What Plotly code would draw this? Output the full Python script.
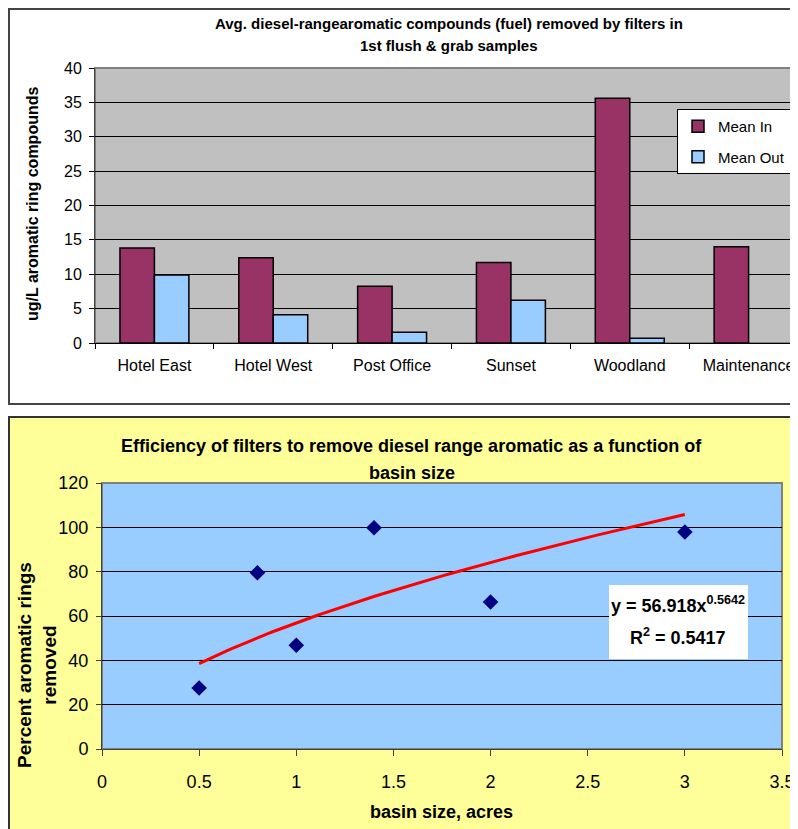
import numpy as np
import plotly.graph_objects as go

# The page adds an 8 px body margin, so the figure is drawn 8 px smaller
OFF = 8
W, H = 798 - OFF, 829 - OFF
FONT = "Arial, Liberation Sans, sans-serif"

# ---- data: top chart ----
sites = ["Hotel East", "Hotel West", "Post Office", "Sunset", "Woodland", "Maintenance"]
mean_in = [13.8, 12.4, 8.25, 11.7, 35.6, 14.0]
mean_out = [9.9, 4.1, 1.55, 6.2, 0.68, None]

# ---- data: bottom chart ----
basin_size = [0.5, 0.8, 1.0, 1.4, 2.0, 3.0]
pct_removed = [27.5, 79.5, 46.8, 99.8, 66.3, 97.9]

# power trendline as displayed on the chart
fit_a = 56.918
fit_b = 0.5642
fit_r2 = 0.5417


def px(x):
    return (x - OFF) / W


def py(y):
    return 1 - (y - OFF) / H


fig = go.Figure()

fig.add_trace(go.Bar(
    x=sites, y=mean_in, name="Mean In",
    marker=dict(color="#993366", line=dict(color="black", width=1.5)),
    xaxis="x", yaxis="y", legendgroup="a",
))
fig.add_trace(go.Bar(
    x=sites, y=mean_out, name="Mean Out",
    marker=dict(color="#99CCFF", line=dict(color="black", width=1.5)),
    xaxis="x", yaxis="y", legendgroup="b",
))

fig.add_trace(go.Scatter(
    x=basin_size, y=pct_removed, mode="markers",
    marker=dict(symbol="diamond", size=12, color="#000080"),
    xaxis="x2", yaxis="y2", showlegend=False,
))
trend_x = np.linspace(min(basin_size), max(basin_size), 120)
trend_y = fit_a * trend_x ** fit_b
fig.add_trace(go.Scatter(
    x=trend_x, y=trend_y, mode="lines",
    line=dict(color="#FF0000", width=3),
    xaxis="x2", yaxis="y2", showlegend=False,
))

shapes = [
    dict(type="rect", xref="paper", yref="paper", x0=px(9), x1=1.02, y0=py(404), y1=py(9),
         fillcolor="white", line=dict(color="#444444", width=2), layer="below"),
    dict(type="rect", xref="paper", yref="paper", x0=px(9), x1=1.02, y0=-0.02, y1=py(417),
         fillcolor="#FFFF99", line=dict(color="#333333", width=2), layer="below"),
    dict(type="rect", xref="x domain", yref="y domain", x0=0, x1=1, y0=0, y1=1,
         fillcolor="#C0C0C0", line=dict(color="#808080", width=2), layer="below"),
    dict(type="rect", xref="x2 domain", yref="y2 domain", x0=0, x1=1, y0=0, y1=1,
         fillcolor="#99CCFF", line=dict(color="#808080", width=2), layer="below"),
    # white box behind the trendline equation
    dict(type="rect", xref="paper", yref="paper", x0=px(609), x1=px(748),
         y0=py(659), y1=py(585), fillcolor="white", line=dict(width=0), layer="above"),
]


def ann(text, x, y, size, angle=0, **kw):
    d = dict(text=text, x=px(x), y=py(y), xref="paper", yref="paper",
             showarrow=False, xanchor="center", yanchor="middle", textangle=angle,
             font=dict(family=FONT, size=size, color="black", weight="bold"))
    d.update(kw)
    return d


annotations = [
    ann("Avg. diesel-rangearomatic compounds (fuel) removed by filters in", 449, 23, 15),
    ann("1st flush & grab samples", 449, 45, 15),
    ann("ug/L aromatic ring compounds", 33, 204, 16, -90),
    ann("Efficiency of filters to remove diesel range aromatic as a function of", 412, 446, 18),
    ann("basin size", 412, 473, 18),
    ann("Percent aromatic rings<br>removed", 37, 665, 19, -90),
    ann("basin size, acres", 441, 812, 18),
    ann(f"y = {fit_a}x<sup>{fit_b}</sup>", 678, 604, 18),
    ann(f"R<sup>2</sup> = {fit_r2}", 678, 636, 18),
]

fig.update_layout(
    width=W, height=H,
    margin=dict(l=0, r=0, t=0, b=0, autoexpand=False),
    paper_bgcolor="white",
    plot_bgcolor="rgba(0,0,0,0)",
    barmode="group", bargap=0.42, bargroupgap=0,
    shapes=shapes, annotations=annotations,
    legend=dict(x=px(677), y=py(109), xanchor="left", yanchor="top",
                bgcolor="white", bordercolor="black", borderwidth=1,
                font=dict(family=FONT, size=15, color="black"),
                tracegroupgap=8),
    xaxis=dict(domain=[px(95), 1], range=[-0.5, 5.5 - (808 - 798) / 118.7], type="category",
               tickson="boundaries", ticks="outside", ticklen=5, tickcolor="black",
               showline=True, linecolor="black", linewidth=1, showgrid=False,
               tickfont=dict(family=FONT, size=16, color="black"),
               ticklabelstandoff=8, anchor="y", automargin=False),
    yaxis=dict(domain=[py(343), py(68)], range=[0, 40], dtick=5,
               showgrid=True, gridcolor="black", gridwidth=1, zeroline=False,
               ticks="outside", ticklen=5, tickcolor="black",
               showline=True, linecolor="#404040", linewidth=1,
               tickfont=dict(family=FONT, size=16, color="black"),
               ticklabelstandoff=4, anchor="x", automargin=False),
    xaxis2=dict(domain=[px(102), px(782)], range=[0, 3.5], dtick=0.5,
                ticks="outside", ticklen=6, tickcolor="#404040",
                showline=True, linecolor="#404040", linewidth=1, showgrid=False,
                zeroline=False,
                tickfont=dict(family=FONT, size=18, color="black"),
                ticklabelstandoff=10, anchor="y2", automargin=False),
    yaxis2=dict(domain=[py(749), py(483)], range=[0, 120], dtick=20,
                showgrid=True, gridcolor="black", gridwidth=1, zeroline=False,
                ticks="outside", ticklen=5, tickcolor="#404040",
                showline=True, linecolor="#404040", linewidth=1,
                tickfont=dict(family=FONT, size=18, color="black"),
                ticklabelstandoff=4, anchor="x2", automargin=False),
)

fig.write_html("out.html")
